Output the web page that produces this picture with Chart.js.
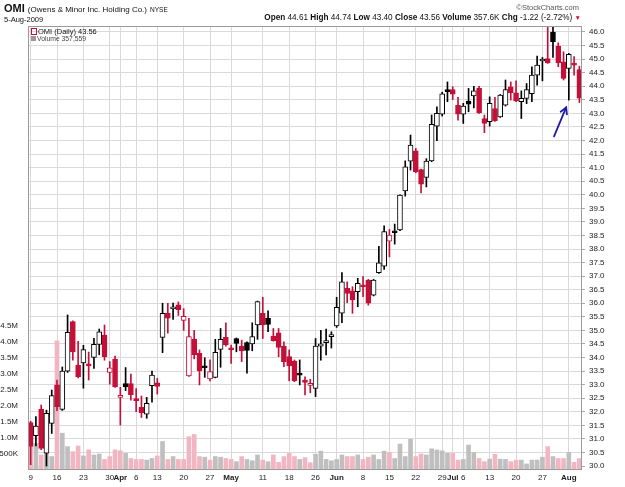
<!DOCTYPE html>
<html>
<head>
<meta charset="utf-8">
<script src="https://cdn.jsdelivr.net/npm/chart.js@4.4.1/dist/chart.umd.min.js"></script>
<style>
  body { margin: 0; background: #fff; }
  #wrap { position: relative; width: 625px; height: 487px; overflow: hidden; font-family: "Liberation Sans", Arial, sans-serif; font-size: 8px; }
  canvas { position: absolute; left: 0; top: 0; }
  .t { position: absolute; white-space: nowrap; color: #111; line-height: 1; }
</style>
</head>
<body>
<div id="wrap">
  <canvas id="c" width="625" height="487"></canvas>
  <div class="t" style="left:4px;top:3px;font-size:11px;"><b>OMI</b> <span style="font-size:8px;">(Owens &amp; Minor Inc. Holding Co.)</span> <span style="font-size:6.5px;">NYSE</span></div>
  <div class="t" style="left:4px;top:15.5px;font-size:7.5px;">5-Aug-2009</div>
  <div class="t" style="right:46px;top:4px;font-size:7.5px;color:#555;">©StockCharts.com</div>
  <div class="t" style="right:44px;top:14px;font-size:8.2px;"><b>Open</b> 44.61 <b>High</b> 44.74 <b>Low</b> 43.40 <b>Close</b> 43.56 <b>Volume</b> 357.6K <b>Chg</b> -1.22 (-2.72%) <span style="color:#c41039;font-size:6.5px;">▼</span></div>
  <div class="t" style="left:31px;top:28px;font-size:7.5px;"><span style="display:inline-block;width:4px;height:5px;border:1px solid #c41039;margin-right:1px;vertical-align:-1px;"></span>OMI (Daily) 43.56</div>
  <div class="t" style="left:31px;top:36px;font-size:6.8px;color:#444;"><span style="display:inline-block;width:5px;height:5px;background:#999;margin-right:1px;"></span>Volume 357,559</div>
</div>
<script>
// ---- data ----
const dates = [
  "3/9","3/10","3/11","3/12","3/13","3/16","3/17","3/18","3/19","3/20","3/23","3/24","3/25","3/26","3/27","3/30","3/31",
  "4/1","4/2","4/3","4/6","4/7","4/8","4/9","4/13","4/14","4/15","4/16","4/17","4/20","4/21","4/22","4/23","4/24","4/27","4/28","4/29","4/30",
  "5/1","5/4","5/5","5/6","5/7","5/8","5/11","5/12","5/13","5/14","5/15","5/18","5/19","5/20","5/21","5/22","5/26","5/27","5/28","5/29",
  "6/1","6/2","6/3","6/4","6/5","6/8","6/9","6/10","6/11","6/12","6/15","6/16","6/17","6/18","6/19","6/22","6/23","6/24","6/25","6/26","6/29","6/30",
  "7/1","7/2","7/6","7/7","7/8","7/9","7/10","7/13","7/14","7/15","7/16","7/17","7/20","7/21","7/22","7/23","7/24","7/27","7/28","7/29","7/30","7/31",
  "8/3","8/4","8/5"
];
const opens = [31.60,31.12,32.10,30.47,31.57,32.99,32.09,33.50,35.32,33.72, 33.80,33.76,34.00,34.48,34.83,33.45,33.94,32.53,33.04,33.04,
  32.49,32.16,31.91,32.96,33.07,34.74,35.64,35.79,35.94,35.37, 33.32,34.68,34.15,33.69,33.21,33.27,34.30,34.74,34.34,34.70,
  34.42,34.55,34.50,35.20,35.63,35.44,34.79,34.91,34.42,34.03, 33.87,33.39,33.17,32.97,32.86,34.42,34.55,34.77,35.16,35.63,
  36.55,36.46,36.43,36.67,36.85,36.30,37.13,37.37,38.29,38.66, 38.70,40.14,41.24,41.62,40.93,40.64,41.25,42.53,42.97,43.84,
  43.88,43.30,42.97,43.45,43.64,43.92,42.81,42.69,43.18,42.87, 43.30,43.98,43.76,43.43,43.55,43.73,44.41,44.93,45.02,46.00,
  45.48,44.90,44.66,44.80,44.61];
const highs = [31.65,31.82,32.25,32.06,32.80,33.17,33.65,35.57,35.35,34.60, 34.45,34.20,34.71,35.05,35.20,33.85,34.05,32.90,33.63,33.39,
  32.85,32.58,32.53,33.50,33.23,36.00,36.00,36.01,36.05,35.80, 35.44,35.00,34.28,33.99,33.91,34.67,35.07,35.28,34.46,34.72,
  34.64,34.58,35.28,36.08,36.22,35.72,35.07,35.07,34.58,34.28, 33.91,33.91,33.29,33.20,34.70,35.00,35.05,34.95,36.22,37.13,
  36.79,36.61,36.92,36.98,36.88,36.88,38.10,38.85,38.72,38.92, 40.00,41.25,42.20,41.71,40.95,41.33,42.94,43.24,43.78,44.16,
  43.98,43.59,43.37,43.92,44.00,44.00,42.94,43.61,43.59,43.70, 44.23,44.16,44.20,43.83,44.10,44.72,45.11,45.06,46.18,46.19,
  45.60,45.27,45.21,45.09,44.74];
const lows = [30.05,30.74,30.60,30.00,31.20,32.04,32.05,33.45,33.90,33.25, 32.87,33.17,33.60,34.10,33.90,33.02,32.90,31.51,32.78,32.43,
  32.00,31.79,31.76,32.35,32.65,34.18,34.90,35.40,35.55,35.00, 33.30,33.95,32.99,33.27,33.14,33.25,33.64,34.42,33.78,34.21,
  33.85,33.42,34.25,34.67,34.70,34.95,34.60,34.03,33.66,33.14, 33.11,32.99,32.62,32.70,32.56,33.90,34.10,34.35,35.11,35.28,
  36.02,35.63,35.87,36.24,35.93,36.27,37.10,37.25,37.71,38.18, 38.68,39.95,40.91,40.81,40.07,40.29,41.22,41.99,42.90,43.43,
  43.51,42.75,42.63,43.06,43.20,43.00,42.29,42.53,42.70,42.85, 43.27,43.49,43.43,42.81,43.36,43.43,44.04,44.20,44.84,45.06,
  44.72,44.23,43.49,44.41,43.40];
const closes = [30.72,31.47,30.65,31.94,32.60,32.19,33.50,34.93,34.21,33.29, 34.29,33.69,34.49,34.95,34.03,33.62,32.92,32.60,32.92,32.63,
  32.41,31.97,32.31,33.35,32.93,35.63,35.45,35.87,35.76,35.52, 34.77,34.10,33.51,33.62,33.48,34.19,34.67,34.46,34.28,34.52,
  34.24,34.26,34.77,36.06,35.20,35.22,34.62,34.37,33.85,33.69, 33.14,33.35,33.08,33.03,34.42,34.50,34.62,34.83,35.85,36.79,
  36.36,36.12,36.73,36.61,36.00,36.85,37.49,38.64,38.51,38.60, 39.99,41.03,41.83,40.85,40.39,41.24,42.60,43.00,43.72,43.80,
  43.71,42.97,43.27,43.34,43.83,43.02,42.63,43.37,42.73,43.67, 43.88,43.76,43.46,43.55,43.88,44.41,44.78,44.99,44.86,45.64,
  44.86,44.29,45.18,44.78,43.56];
const priorClose = 31.30;
const volumes = [900000,830000,470000,550000,420000,4040000,1150000,730000,570000,750000,
  440000,630000,470000,500000,330000,420000,630000,600000,520000,360000,
  330000,330000,310000,360000,440000,890000,330000,420000,330000,330000,
  1040000,1110000,420000,400000,310000,420000,400000,360000,330000,260000,
  420000,330000,290000,470000,310000,260000,470000,240000,420000,520000,
  420000,330000,385000,230000,490000,590000,330000,290000,330000,470000,
  420000,420000,470000,330000,400000,470000,330000,590000,550000,360000,
  810000,420000,960000,420000,500000,470000,660000,625000,600000,520000,
  520000,310000,330000,780000,550000,360000,260000,340000,490000,340000,
  330000,260000,310000,310000,190000,310000,310000,400000,730000,420000,
  360000,360000,550000,240000,357559];
// x-axis tick labels keyed by date
const tickLabels = {"3/9":"9","3/16":"16","3/23":"23","3/30":"30","4/1":"Apr","4/6":"6","4/13":"13","4/20":"20","4/27":"27",
  "5/1":"May","5/11":"11","5/18":"18","5/26":"26","6/1":"Jun","6/8":"8","6/15":"15","6/22":"22","6/29":"29",
  "7/1":"Jul","7/6":"6","7/13":"13","7/20":"20","7/27":"27","8/3":"Aug"};
const volumeTicks = [500000,1000000,1500000,2000000,2500000,3000000,3500000,4000000,4500000];
const arrowNote = { fromIndex: 99.2, fromPrice: 42.15, toIndex: 101.5, toPrice: 43.22 };

// ---- styling ----
const RED = '#c41039', BLACK = '#000000', PINK = '#f1b6c2', GREY = '#bfbfbf';
const isDown = i => closes[i] < (i ? closes[i - 1] : priorClose);
const colorOf = i => isDown(i) ? RED : BLACK;
const isHollow = i => closes[i] > opens[i];

Chart.defaults.font.family = '"Liberation Sans", Arial, sans-serif';

const framePlugin = {
  id: 'frame',
  afterDraw(chart) {
    const { ctx, chartArea: a } = chart;
    ctx.save();
    ctx.strokeStyle = '#9a9a9a';
    ctx.lineWidth = 1;
    ctx.strokeRect(Math.round(a.left) + 0.5, Math.round(a.top) + 0.5, Math.round(a.right - a.left) - 1, Math.round(a.bottom - a.top) - 1);
    // annotation arrow
    const xs = chart.scales.x, ys = chart.scales.y;
    const x1 = xs.getPixelForValue(arrowNote.fromIndex), y1 = ys.getPixelForValue(arrowNote.fromPrice);
    const x2 = xs.getPixelForValue(arrowNote.toIndex), y2 = ys.getPixelForValue(arrowNote.toPrice);
    ctx.strokeStyle = '#1c1ca8';
    ctx.lineWidth = 1.8;
    ctx.lineCap = 'round';
    ctx.beginPath(); ctx.moveTo(x1, y1); ctx.lineTo(x2, y2); ctx.stroke();
    const ang = Math.atan2(y2 - y1, x2 - x1), L = 7;
    ctx.beginPath();
    ctx.moveTo(x2 - L * Math.cos(ang - 0.5), y2 - L * Math.sin(ang - 0.5));
    ctx.lineTo(x2, y2);
    ctx.lineTo(x2 - L * Math.cos(ang + 0.5), y2 - L * Math.sin(ang + 0.5));
    ctx.stroke();
    ctx.restore();
  }
};

new Chart(document.getElementById('c'), {
  type: 'bar',
  data: {
    labels: dates,
    datasets: [
      {
        label: 'body', order: 0, yAxisID: 'y', grouped: false,
        data: dates.map((d, i) => [Math.min(opens[i], closes[i]), Math.max(opens[i], closes[i])]),
        backgroundColor: dates.map((d, i) => isHollow(i) ? '#ffffff' : colorOf(i)),
        borderColor: dates.map((d, i) => colorOf(i)),
        borderWidth: 1, borderSkipped: false, barThickness: 5, minBarLength: 2
      },
      {
        label: 'wick', order: 1, yAxisID: 'y', grouped: false,
        data: dates.map((d, i) => [lows[i], highs[i]]),
        backgroundColor: dates.map((d, i) => colorOf(i)),
        borderWidth: 0, barThickness: 1, minBarLength: 1
      },
      {
        label: 'volume', order: 2, yAxisID: 'yVol', grouped: false,
        data: volumes,
        backgroundColor: dates.map((d, i) => isDown(i) ? PINK : GREY),
        borderWidth: 0, barThickness: 4
      }
    ]
  },
  options: {
    responsive: false, animation: false, events: [],
    layout: { padding: { top: 26, left: 0, right: 0, bottom: 0 } },
    plugins: { legend: { display: false }, tooltip: { enabled: false } },
    scales: {
      x: {
        offset: true,
        border: { display: false },
        grid: { offset: false, drawTicks: false,
          color: c => (tickLabels[dates[c.index]] ? '#d9d9d9' : 'rgba(0,0,0,0)') },
        ticks: {
          autoSkip: false, maxRotation: 0, minRotation: 0, padding: 3, color: '#222',
          callback: (v, i) => tickLabels[dates[i]] || '',
          font: c => ({ size: 8, weight: /^[A-Z]/.test(tickLabels[dates[c.index]] || '') ? 'bold' : 'normal' })
        },
        afterFit: s => { s.height = 17; }
      },
      y: {
        position: 'right', min: 29.853, max: 46.221,
        border: { display: false },
        grid: { color: '#dadada', tickLength: 3, tickColor: '#aaaaaa' },
        ticks: { stepSize: 0.5, includeBounds: false, padding: 4, color: '#222', font: { size: 8 },
          callback: v => Number(v).toFixed(1) },
        afterFit: s => { s.width = 43; }
      },
      yVol: {
        position: 'left', min: 0, max: 13875000,
        border: { display: false },
        grid: { display: false },
        afterBuildTicks: s => { s.ticks = volumeTicks.map(v => ({ value: v })); },
        ticks: { padding: 2, color: '#222', font: { size: 8 },
          callback: v => v >= 1000000 ? (v / 1000000).toFixed(1) + 'M' : (v / 1000) + 'K' },
        afterFit: s => { s.width = 28; }
      }
    }
  },
  plugins: [framePlugin]
});
</script>
</body>
</html>
